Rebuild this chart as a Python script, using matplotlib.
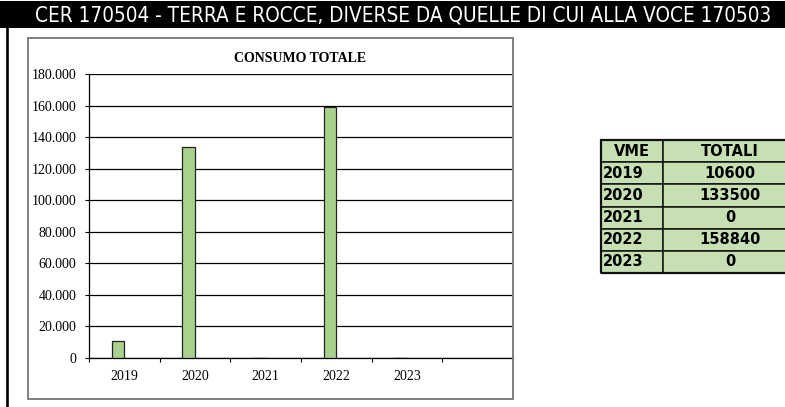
""" CER 170504 - consumo totale per anno, grafico a barre con tabella """

import matplotlib
matplotlib.use('Agg')
import matplotlib.pyplot as plt
from matplotlib.patches import Rectangle
from matplotlib.lines import Line2D
from matplotlib.ticker import FuncFormatter, MultipleLocator, FixedLocator

""" 1. dati """
anni = ['2019', '2020', '2021', '2022', '2023']
totali = [10600, 133500, 0, 158840, 0]
titolo = 'CER 170504 - TERRA E ROCCE, DIVERSE DA QUELLE DI CUI ALLA VOCE 170503'
titolo_grafico = 'CONSUMO TOTALE'
intestazione = ['VME', 'TOTALI']

W, H = 785, 407
verde_barre = '#a9d18e'
verde_tab = '#c6e0b4'


def fx(px):
    return px / W


def fy(py):
    # pixel dall'alto -> frazione dal basso
    return 1 - py / H


fig = plt.figure(figsize=(W / 100, H / 100), dpi=100)
fig.patch.set_facecolor('white')

# barra del titolo
fig.patches.append(Rectangle((0, fy(28)), 1, fy(1) - fy(28),
                             transform=fig.transFigure, facecolor='black',
                             edgecolor='none', zorder=0))
t = fig.text(fx(403), fy(15), titolo, color='white', fontsize=14,
             family='DejaVu Sans', fontstretch='condensed',
             ha='center', va='center')
# adatta la dimensione alla larghezza del titolo nell'originale (~737 px)
r = fig.canvas.get_renderer()
larg = t.get_window_extent(r).width
t.set_fontsize(14 * 737 / larg)

# riga verticale a sinistra
fig.lines.append(Line2D([fx(6.5), fx(6.5)], [0, fy(28)],
                        transform=fig.transFigure, color='black', lw=1.9))

# cornice del grafico
fig.patches.append(Rectangle((fx(28), fy(399)), fx(513) - fx(28),
                             fy(38) - fy(399), transform=fig.transFigure,
                             facecolor='none', edgecolor='#7f7f7f', lw=1.4,
                             zorder=5))

""" 2. grafico """
ax = fig.add_axes([fx(89), fy(358), fx(513) - fx(89), fy(74) - fy(358)])
n = len(anni) + 1  # una categoria vuota in fondo
x = range(len(anni))
w = 0.177
ax.bar([i - w / 2 for i in x], totali, width=w, color=verde_barre,
       edgecolor='#222222', lw=0.9, zorder=3)
ax.set_xlim(-0.5, n - 0.5)
ax.set_ylim(0, 180000)
ax.yaxis.set_major_locator(MultipleLocator(20000))
ax.yaxis.set_major_formatter(
    FuncFormatter(lambda v, p: f'{v:,.0f}'.replace(',', '.')))
ax.grid(axis='y', color='black', lw=0.9, zorder=1)
ax.set_axisbelow(True)
for s in ['top', 'right']:
    ax.spines[s].set_visible(False)
ax.spines['left'].set_lw(0.9)
ax.spines['bottom'].set_lw(0.9)
ax.set_xticks(list(x))
ax.set_xticklabels(anni)
ax.xaxis.set_minor_locator(FixedLocator([i - 0.5 for i in range(n)]))
ax.tick_params(axis='x', which='major', length=0, pad=9)
ax.tick_params(axis='x', which='minor', length=3, width=0.8, direction='out')
ax.tick_params(axis='y', length=3, width=0.8, pad=6)
for lab in ax.get_xticklabels() + ax.get_yticklabels():
    lab.set_family('Liberation Serif')
    lab.set_fontsize(10)
fig.text(fx(300), fy(59), titolo_grafico, family='Liberation Serif',
         fontweight='bold', fontsize=10, ha='center', va='center')

""" 3. tabella """
tax = fig.add_axes([fx(601), fy(273), fx(797) - fx(601), fy(140) - fy(273)])
tax.axis('off')
righe = [[a, str(v)] for a, v in zip(anni, totali)]
tab = tax.table(cellText=righe, colLabels=intestazione, bbox=[0, 0, 1, 1],
                colWidths=[62, 134], cellLoc='center')
tab.auto_set_font_size(False)
for (rr, c), cell in tab.get_celld().items():
    cell.set_facecolor(verde_tab)
    cell.set_edgecolor('#111111')
    cell.set_linewidth(1.1)
    cell.get_text().set_fontsize(10.5)
    cell.get_text().set_fontweight('bold')
    if rr > 0 and c == 0:
        cell.PAD = 0.03
        cell.get_text().set_ha('left')
tax.add_patch(Rectangle((0, 0), 1, 1, transform=tax.transAxes,
                        facecolor='none', edgecolor='#111111', lw=1.6,
                        clip_on=False, zorder=10))

fig.savefig('out.png', dpi=100)
